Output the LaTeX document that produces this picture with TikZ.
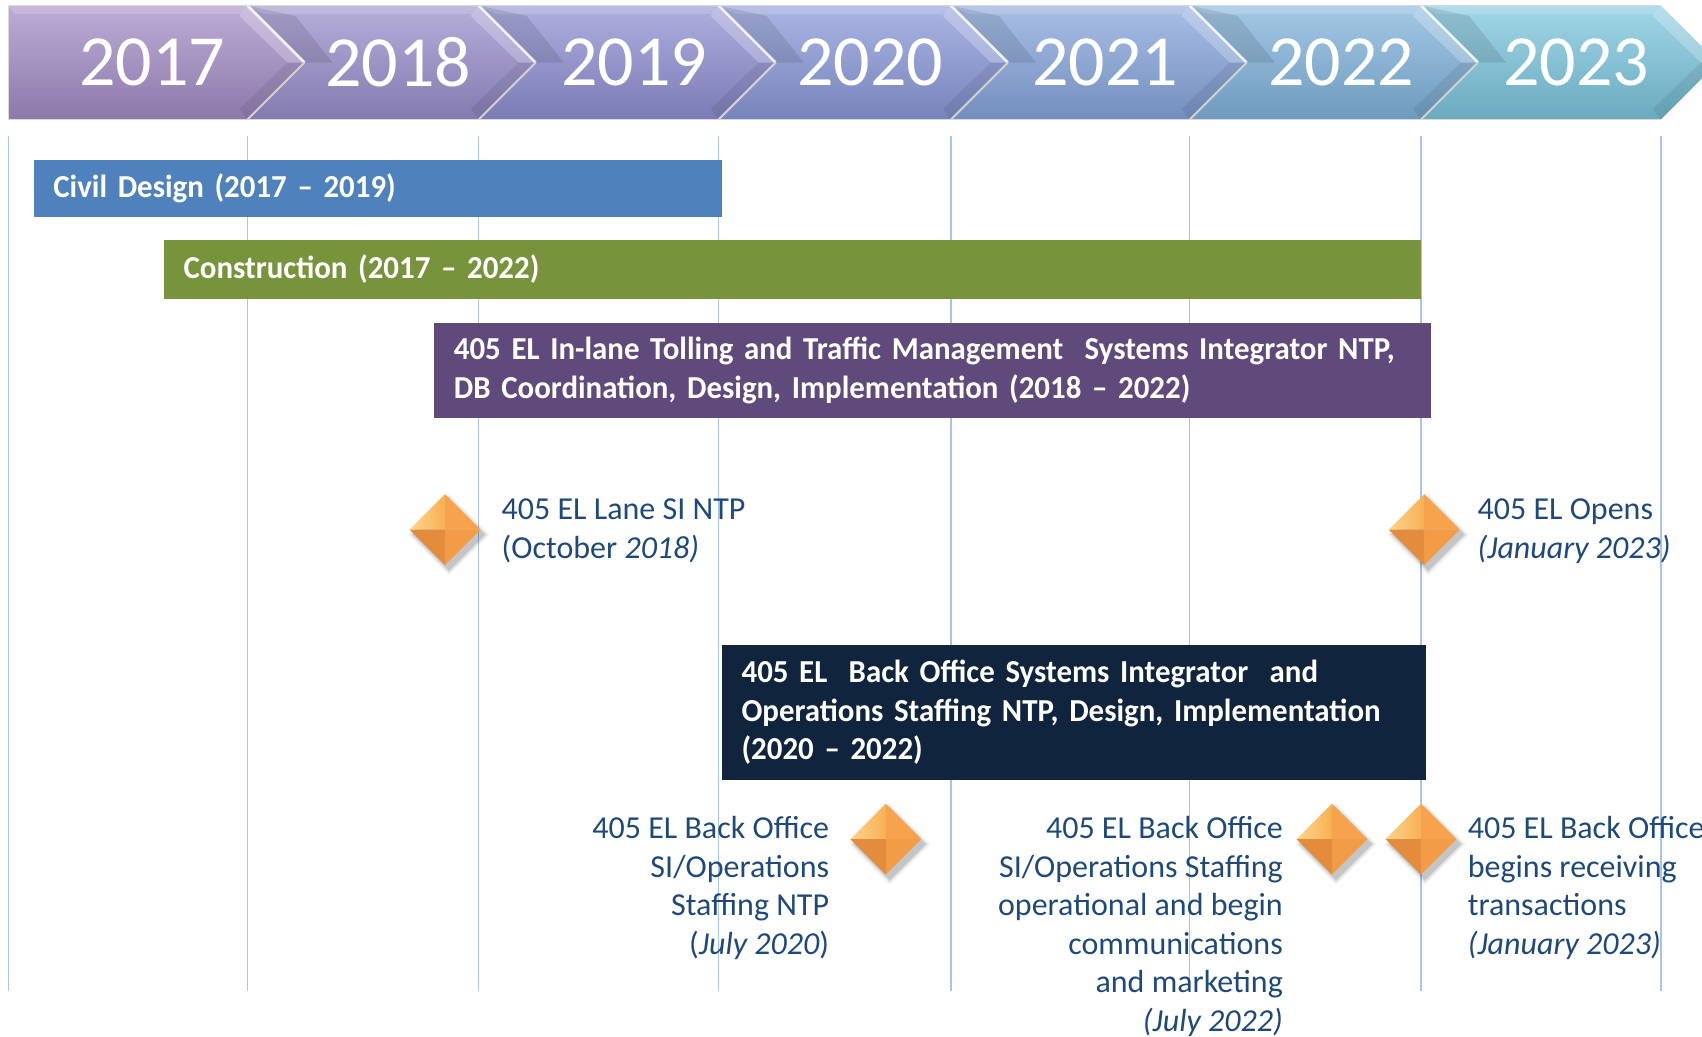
\documentclass[tikz,border=0pt]{standalone}
\usepackage{fontspec}
\setmainfont{Carlito}
\newfontfamily\barfont{Carlito}[FakeStretch=0.965]
\usetikzlibrary{calc}

\definecolor{chA}{HTML}{A38CC6}
\definecolor{chB}{HTML}{998ECC}
\definecolor{chC}{HTML}{8F8FD3}
\definecolor{chD}{HTML}{8A99D9}
\definecolor{chE}{HTML}{86A5DC}
\definecolor{chF}{HTML}{80B3DC}
\definecolor{chG}{HTML}{7CC6DE}
\definecolor{civilblue}{HTML}{4F81BD}
\definecolor{constrgreen}{HTML}{77933C}
\definecolor{lanepurple}{HTML}{604A7B}
\definecolor{officenavy}{HTML}{10243E}
\definecolor{msblue}{HTML}{1F497D}
\definecolor{gridblue}{HTML}{A9C4EB}
\definecolor{dmHi}{HTML}{FED58E}
\definecolor{dmTL}{HTML}{F8B055}
\definecolor{dmTR}{HTML}{F7A24C}
\definecolor{dmBR}{HTML}{F39C48}
\definecolor{dmBL}{HTML}{E38C3D}

\begin{document}
\begin{tikzpicture}[x=1pt,y=-1pt,
  yeartext/.style={text=white,font=\fontsize{72}{80}\selectfont,inner sep=0},
  bar/.style={anchor=north west,inner xsep=19.5pt,inner ysep=0pt,align=left,
    text=white,font=\fontsize{32}{38.5}\selectfont\barfont\bfseries},
  mstext/.style={text=msblue,font=\fontsize{32}{38.5}\selectfont,inner sep=0pt},
  gridline/.style={draw=gridblue,line width=1.4pt},
  milestone/.pic={
    % soft shadow below and right of the gem
    \foreach \s/\o in {41/0.04,39/0.05,37.5/0.07,36/0.09}{
      \fill[black,opacity=\o] (4,5) ++(-\s,0) -- ++(\s,-\s) -- ++(\s,\s) -- ++(-\s,\s) -- cycle;
    }
    % four facets of the gem
    \shade[left color=dmHi,right color=dmTL] (-35.5,0) -- (0,-35.5) -- (0,0) -- cycle;
    \fill[dmTR] (0,-35.5) -- (35.5,0) -- (0,0) -- cycle;
    \fill[dmBR] (35.5,0) -- (0,35.5) -- (0,0) -- cycle;
    \fill[dmBL] (0,35.5) -- (-35.5,0) -- (0,0) -- cycle;
  }]
\useasboundingbox (0,0) rectangle (1702,1036);
\begin{scope}
\clip (0,0) rectangle (1702,1036);

% year grid
\foreach \gx [count=\k] in {8.7,247.5,478.7,718.6,950.9,1189.7,1421,1660.8}{
  \coordinate (gt\k) at (\gx,136);
  \coordinate (gb\k) at (\gx,991);
  \draw[gridline] (gt\k) -- (gb\k);
}

% header chevrons
\foreach \i/\xa/\xb/\nd/\col/\yr/\cx in {
  0/8.7/247.5/0/chA/2017/152,
  1/247.5/478.7/57/chB/2018/398,
  2/478.7/718.6/57/chC/2019/634,
  3/718.6/950.9/57/chD/2020/870,
  4/950.9/1189.7/57/chE/2021/1105,
  5/1189.7/1421/57/chF/2022/1341,
  6/1421/1660.8/57/chG/2023/1576}{
  \shade[top color=\col!72!white,middle color=\col,bottom color=\col!86!black]
    (\xa,5.5) -- (\xb,5.5) -- ({\xb+57},62.5) -- (\xb,119.5) -- (\xa,119.5) -- ({\xa+\nd},62.5) -- cycle;
  \fill[white,opacity=.16] (\xa,5.5) -- (\xb,5.5) -- ({\xb-6},14) -- ({\xa+\nd/5+6},14) -- cycle;
  \fill[white,opacity=.24] (\xb,5.5) -- ({\xb+57},62.5) -- ({\xb+40},62.5) -- ({\xb-8},16) -- cycle;
  \fill[black,opacity=.07] ({\xb+57},62.5) -- (\xb,119.5) -- ({\xb-8},109) -- ({\xb+40},62.5) -- cycle;
  \ifnum\i>0
    \fill[black,opacity=.10] (\xa,5.5) -- ({\xa+\nd},62.5) -- ({\xa+\nd+28},62.5) -- ({\xa+48},16) -- cycle;
    \draw[white,opacity=.85,line width=2.5pt] (\xa,5.5) -- ({\xa+\nd},62.5);
    \draw[gray!35,line width=2pt] ({\xa+\nd},62.5) -- (\xa,119.5);
  \fi
  \node[yeartext] (y\yr) at (\cx,62.5) {\yr};
}
\draw[gray!30,line width=1pt] (8.7,5.5) -- (1660.8,5.5) (8.7,119.5) -- (1660.8,119.5) (8.7,5.5) -- (8.7,119.5);

% phase bars
\node[bar,fill=civilblue,minimum width=688.2pt,minimum height=57.5pt,text width=649.2pt]
  (civil) at (33.7,159.6) {Civil Design (2017 – 2019)};
\node[bar,fill=constrgreen,minimum width=1257.1pt,minimum height=58.6pt,text width=1218.1pt]
  (constr) at (163.9,239.9) {Construction (2017 – 2022)};
\node[bar,fill=lanepurple,minimum width=996.5pt,minimum height=95.5pt,text width=957.5pt]
  (inlane) at (434.2,322.4) {405 EL In-lane Tolling and Traffic Management\ \ Systems Integrator NTP,\\DB Coordination, Design, Implementation (2018 – 2022)};
\node[bar,fill=officenavy,minimum width=703.4pt,minimum height=134.6pt,text width=664.4pt]
  (backoffice) at (721.9,644.8) {405 EL\ \ Back Office Systems Integrator\ \ and\\Operations Staffing NTP, Design, Implementation\\(2020 – 2022)};

% milestones
\pic (msA) at (445,529.7) {milestone};
\pic (msB) at (1424.2,529.7) {milestone};
\pic (msC) at (885.8,839.1) {milestone};
\pic (msD) at (1332,839.1) {milestone};
\pic (msE) at (1421,839.1) {milestone};

\node[mstext,anchor=north west,align=left] (lanentp) at (501.5,492.4)
  {\strut 405 EL Lane SI NTP\\(October \textit{2018)}};
\node[mstext,anchor=north west,align=left] (opens) at (1477.4,492.4)
  {\strut 405 EL Opens\\\textit{(January 2023)}};
\node[mstext,anchor=north east,align=right] (officentp) at (829.3,811.5)
  {\strut 405 EL Back Office\\SI/Operations\\Staffing NTP\\(\textit{July 2020})};
\node[mstext,anchor=north east,align=right] (officeops) at (1283,811.5)
  {\strut 405 EL Back Office\\SI/Operations Staffing\\operational and begin\\communications\\and marketing\\\textit{(July 2022)}};
\node[mstext,anchor=north west,align=left] (officetx) at (1467.6,811.5)
  {\strut 405 EL Back Office\\begins receiving\\transactions\\\textit{(January 2023)}};
\end{scope}
\end{tikzpicture}
\end{document}
